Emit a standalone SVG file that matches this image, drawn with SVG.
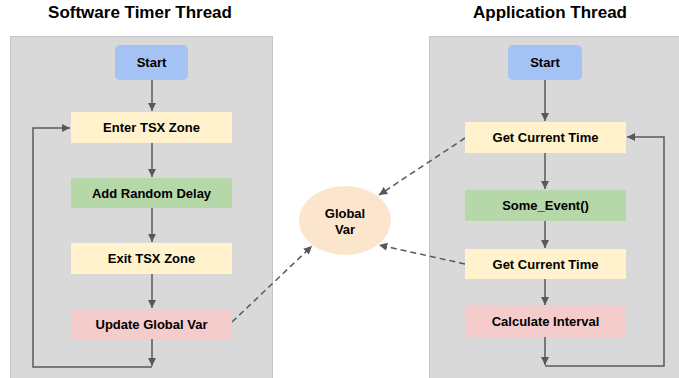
<svg xmlns="http://www.w3.org/2000/svg" width="679" height="378" viewBox="0 0 679 378">
<style>
.title{font-family:"Liberation Sans",Arial,sans-serif;font-weight:bold;font-size:17px;fill:#000;text-anchor:middle}
.lbl{font-family:"Liberation Sans",Arial,sans-serif;font-weight:bold;font-size:13px;fill:#000;text-anchor:middle}
.panel{fill:#d9d9d9;stroke:#9e9e9e;stroke-width:1;stroke-dasharray:1,1}
.start{fill:#a4c2f4}
.yel{fill:#fff2cc}
.grn{fill:#b6d7a8}
.pnk{fill:#f4cccc}
.edge{fill:none;stroke:#595959;stroke-width:1.5}
.dash{fill:none;stroke:#595959;stroke-width:1.5;stroke-dasharray:6,4}
</style>
<defs>
<marker id="ah" viewBox="0 0 10 10" refX="10" refY="5" markerWidth="5.5" markerHeight="5.5" orient="auto" markerUnits="strokeWidth">
<path d="M0,0 L10,5 L0,10 z" fill="#595959"/>
</marker>
</defs>
<text class="title" x="140" y="18">Software Timer Thread</text>
<text class="title" x="550" y="18">Application Thread</text>
<rect class="panel" x="10.5" y="36.5" width="262" height="350"/>
<rect class="panel" x="429.5" y="36.5" width="260" height="350"/>
<g id="connectors">
<path class="edge" d="M152,80 V111" marker-end="url(#ah)"/>
<path class="edge" d="M152,143 V177" marker-end="url(#ah)"/>
<path class="edge" d="M152,208 V242" marker-end="url(#ah)"/>
<path class="edge" d="M152,274 V308" marker-end="url(#ah)"/>
<path class="edge" d="M152,339 V366" marker-end="url(#ah)"/>
<path class="edge" d="M152,367 H33 V128 H70" marker-end="url(#ah)"/>
<path class="edge" d="M545,80 V121" marker-end="url(#ah)"/>
<path class="edge" d="M545,153 V189" marker-end="url(#ah)"/>
<path class="edge" d="M545,221 V248" marker-end="url(#ah)"/>
<path class="edge" d="M545,279 V305" marker-end="url(#ah)"/>
<path class="edge" d="M545,337 V365" marker-end="url(#ah)"/>
<path class="edge" d="M545,366 H664 V137 H627" marker-end="url(#ah)"/>
<path class="dash" d="M465,138 L379,195" marker-end="url(#ah)"/>
<path class="dash" d="M465,264 L379,245" marker-end="url(#ah)"/>
<path class="dash" d="M232,322 L312,246" marker-end="url(#ah)"/>
</g>
<g id="ls-start"><rect class="start" x="115" y="45" width="73" height="35" rx="5"/><text class="lbl" x="151.5" y="67">Start</text></g>
<g id="ls-enter"><rect class="yel" x="71" y="112" width="161" height="31"/><text class="lbl" x="151.5" y="132">Enter TSX Zone</text></g>
<g id="ls-delay"><rect class="grn" x="71" y="178" width="161" height="30"/><text class="lbl" x="151.5" y="198">Add Random Delay</text></g>
<g id="ls-exit"><rect class="yel" x="71" y="243" width="161" height="31"/><text class="lbl" x="151.5" y="263">Exit TSX Zone</text></g>
<g id="ls-update"><rect class="pnk" x="71" y="309" width="161" height="30"/><text class="lbl" x="151.5" y="329">Update Global Var</text></g>
<g id="rs-start"><rect class="start" x="508" y="45" width="74" height="35" rx="5"/><text class="lbl" x="545" y="67">Start</text></g>
<g id="rs-time1"><rect class="yel" x="465" y="122" width="161" height="31"/><text class="lbl" x="545.5" y="142">Get Current Time</text></g>
<g id="rs-event"><rect class="grn" x="465" y="190" width="161" height="31"/><text class="lbl" x="545.5" y="210">Some_Event()</text></g>
<g id="rs-time2"><rect class="yel" x="465" y="249" width="161" height="30"/><text class="lbl" x="545.5" y="269">Get Current Time</text></g>
<g id="rs-calc"><rect class="pnk" x="465" y="306" width="161" height="31"/><text class="lbl" x="545.5" y="326">Calculate Interval</text></g>
<g id="globalvar"><ellipse cx="345" cy="220.5" rx="46" ry="34.5" fill="#fce5cd"/><text class="lbl" x="345" y="218">Global</text><text class="lbl" x="345" y="234">Var</text></g>
</svg>
